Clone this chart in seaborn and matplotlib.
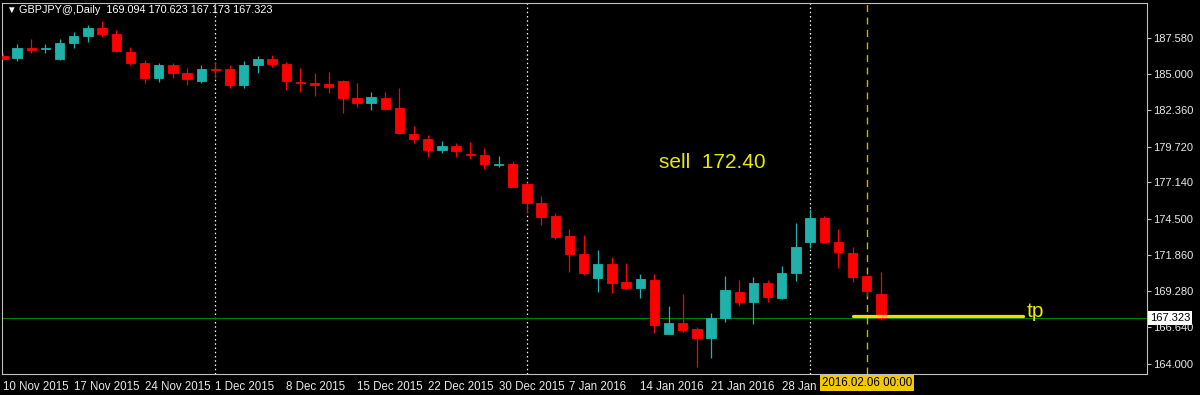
import numpy as np
import pandas as pd
import matplotlib
matplotlib.use("Agg")
import matplotlib.pyplot as plt
import seaborn as sns

# ---------------- data ----------------
symbol = "GBPJPY@,Daily"
first_day = "2015-11-10"
last_day = "2016-02-08"
holidays = ["2015-12-25", "2016-01-01"]

opens = [186.30, 186.10, 186.87, 186.74, 186.03, 187.19, 187.74, 188.32, 187.86, 186.58,
         185.74, 184.70, 185.62, 185.06, 184.48, 185.33, 185.33, 184.17, 185.62, 186.05,
         185.69, 184.41, 184.32, 184.25, 184.48, 183.26, 182.85, 183.26, 182.49, 180.65,
         180.29, 179.47, 179.76, 179.16, 179.09, 178.39, 178.46, 177.02, 175.66, 174.70,
         173.26, 171.95, 170.24, 171.23, 169.95, 169.47, 170.07, 166.17, 166.99, 166.53,
         165.86, 167.30, 169.23, 168.50, 169.88, 168.79, 170.56, 172.84, 174.58, 172.84,
         172.00, 170.36, 169.094]
highs = [186.45, 187.12, 187.50, 187.12, 187.50, 187.98, 188.51, 188.80, 188.15, 186.94,
         185.97, 185.79, 185.74, 185.38, 185.62, 185.86, 185.62, 185.91, 186.27, 186.34,
         185.84, 185.40, 185.06, 185.14, 184.55, 184.30, 183.69, 183.69, 183.94, 181.21,
         180.56, 180.15, 180.00, 180.08, 179.60, 179.04, 178.70, 177.18, 176.15, 174.94,
         173.74, 173.33, 172.24, 171.72, 171.32, 170.51, 170.51, 168.19, 169.06, 166.70,
         167.71, 170.36, 170.07, 170.27, 170.07, 171.09, 174.22, 175.19, 174.70, 173.74,
         172.44, 170.36, 170.623]
lows = [185.95, 185.88, 186.46, 186.46, 185.97, 186.84, 187.30, 187.67, 186.54, 185.62,
        184.30, 184.41, 184.66, 184.17, 184.30, 184.66, 183.96, 183.96, 185.03, 185.47,
        183.81, 183.67, 183.40, 183.57, 182.13, 182.56, 182.37, 182.40, 180.60, 179.96,
        178.95, 179.28, 178.95, 178.82, 178.08, 178.22, 176.80, 174.90, 174.05, 173.02,
        170.67, 170.44, 169.23, 169.11, 169.45, 168.75, 166.22, 166.15, 166.34, 163.80,
        164.41, 167.06, 168.19, 166.89, 168.50, 168.68, 170.00, 172.37, 172.73, 170.92,
        169.95, 168.92, 167.173]
closes = [186.05, 186.87, 186.72, 186.84, 187.23, 187.74, 188.32, 187.86, 186.63, 185.74,
          184.70, 185.62, 185.02, 184.61, 185.31, 185.28, 184.17, 185.62, 186.05, 185.69,
          184.46, 184.30, 184.20, 184.01, 183.26, 182.89, 183.33, 182.46, 180.68, 180.29,
          179.47, 179.78, 179.40, 179.09, 178.44, 178.46, 176.82, 175.66, 174.65, 173.20,
          171.95, 170.56, 171.23, 169.88, 169.47, 170.12, 166.82, 166.99, 166.46, 165.86,
          167.30, 169.35, 168.50, 169.88, 168.82, 170.56, 172.44, 174.58, 172.80, 172.12,
          170.31, 169.28, 167.323]

tick_dates = ["2015-11-10", "2015-11-17", "2015-11-24", "2015-12-01", "2015-12-08",
              "2015-12-15", "2015-12-22", "2015-12-30", "2016-01-07", "2016-01-14",
              "2016-01-21", "2016-01-28", "2016-02-04"]
tick_labels = ["10 Nov 2015", "17 Nov 2015", "24 Nov 2015", "1 Dec 2015", "8 Dec 2015",
               "15 Dec 2015", "22 Dec 2015", "30 Dec 2015", "7 Jan 2016", "14 Jan 2016",
               "21 Jan 2016", "28 Jan 2016", ""]
price_ticks = [164.000, 166.640, 169.280, 171.860, 174.500, 177.140, 179.720,
               182.360, 185.000, 187.580]

sell_text = "sell  172.40"
tp_text = "tp"
tp_level = 167.45
tp_from = "2016-02-04"
tp_bars = 12
vline_time = "2016-02-06 00:00"

# ---------------- build ----------------
dates = pd.bdate_range(first_day, last_day)
dates = dates[~dates.isin(pd.to_datetime(holidays))]
df = pd.DataFrame({"date": dates, "open": opens, "high": highs,
                   "low": lows, "close": closes})
df["i"] = np.arange(len(df))
df["bull"] = df["close"] >= df["open"]

def idx_of(d):
    d = pd.Timestamp(d)
    return int(df.loc[df["date"] <= d, "i"].iloc[-1])

sns.set_theme(style="dark", rc={
    "axes.facecolor": "black", "figure.facecolor": "black",
    "axes.edgecolor": "#c0c0c0", "axes.grid": False,
    "xtick.color": "#c0c0c0", "ytick.color": "#c0c0c0",
    "text.color": "white",
})
plt.rcParams["font.family"] = ["Liberation Sans", "DejaVu Sans"]

W, H = 1200, 395
fig = plt.figure(figsize=(W / 100, H / 100), dpi=100, facecolor="black")
ax = fig.add_axes([2 / W, 21 / H, 1145 / W, 371 / H])
ax.set_facecolor("black")

BULL, BEAR = "#20b2aa", "#ff0000"
colors = np.where(df["bull"], BULL, BEAR)

# wicks
ax.vlines(df["i"], df["low"], df["high"], colors=colors, linewidth=0.9, zorder=3)
# bodies
bottom = np.minimum(df["open"], df["close"])
height = (df["close"] - df["open"]).abs()
ax.bar(df["i"], height, bottom=bottom, width=0.66, color=colors,
       edgecolor=colors, linewidth=0.6, zorder=4)

# period separators (first bar of each month)
month_first = df.groupby(df["date"].dt.to_period("M"))["i"].min().iloc[1:]
for m in month_first:
    ax.axvline(m, color="white", linestyle=(0, (1.2, 2.2)), linewidth=0.9, zorder=2)

# current price line
ax.axhline(closes[-1], color="#008000", linewidth=0.8, zorder=2)

# vertical line object
vi = idx_of(vline_time)
ax.axvline(vi, color="#c8b400", linestyle=(0, (5, 4)), linewidth=1.0, zorder=2)

# tp line
t0 = idx_of(tp_from)
tp_df = pd.DataFrame({"x": [t0, t0 + tp_bars], "y": [tp_level, tp_level]})
sns.lineplot(data=tp_df, x="x", y="y", color="#ffd700", linewidth=2.3, ax=ax, zorder=5)

# annotations
ax.text(46.3, 178.55, sell_text, color="#e8e800", fontsize=15, va="center", ha="left")
ax.text(72.3, 167.78, tp_text, color="#e8e800", fontsize=15, va="center", ha="left")

# axes limits / ticks
ax.set_xlim(-0.07, 80.79)
ax.set_ylim(163.277, 190.10)
ax.yaxis.tick_right()
ax.set_yticks(price_ticks)
ax.set_yticklabels([f"{v:.3f}" for v in price_ticks])
ax.tick_params(axis="y", length=3, width=0.8, pad=1.5, labelsize=8,
               labelcolor="#e8e8e8", colors="#c0c0c0")
ax.set_xticks([idx_of(d) for d in tick_dates])
ax.set_xticklabels(tick_labels)
for lab in ax.get_xticklabels():
    lab.set_ha("left")
ax.tick_params(axis="x", length=3, width=0.8, pad=2, labelsize=8.3,
               labelcolor="#e8e8e8", colors="#c0c0c0")
ax.tick_params(axis="y", labelcolor="#e8e8e8")
ax.set_xlabel("")
ax.set_ylabel("")
for s in ax.spines.values():
    s.set_color("#c0c0c0")
    s.set_linewidth(0.8)

# price label box on the axis
ax.text(1.0025, closes[-1], f"{closes[-1]:.3f}", transform=ax.get_yaxis_transform(),
        ha="left", va="center", fontsize=8, color="black", clip_on=False, zorder=10,
        bbox=dict(boxstyle="square,pad=0.15", facecolor="white", edgecolor="none"))

# time label box for the vertical line
ax.text(vi, -0.024, pd.Timestamp(vline_time).strftime("%Y.%m.%d %H:%M"),
        transform=ax.get_xaxis_transform(), ha="center", va="center", fontsize=8.3,
        color="black", clip_on=False, zorder=10,
        bbox=dict(boxstyle="square,pad=0.18", facecolor="#f2c800", edgecolor="none"))

# title
fig.text(6 / W, 1 - 10 / H, "▼", color="white", fontsize=7, va="center", ha="left")
last = df.iloc[-1]
fig.text(19 / W, 1 - 10 / H,
         f"{symbol}  {last['open']:.3f} {last['high']:.3f} {last['low']:.3f} {last['close']:.3f}",
         color="white", fontsize=7.8, va="center", ha="left")

fig.savefig("out.png", dpi=100, facecolor="black")
